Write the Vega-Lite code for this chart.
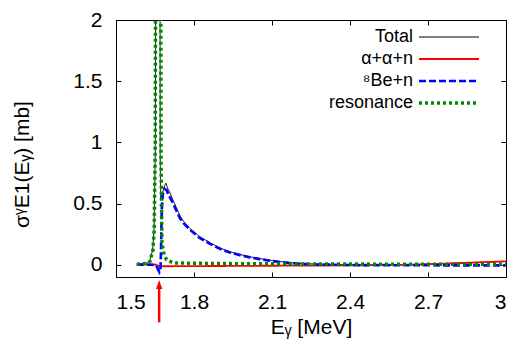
{
  "$schema": "https://vega.github.io/schema/vega-lite/v6.json",
  "width": 390,
  "height": 257,
  "autosize": {"type": "none"},
  "padding": {"left": 116, "top": 20, "right": 8, "bottom": 68},
  "background": "white",
  "config": {
    "view": {"stroke": "black", "strokeWidth": 1},
    "font": "Liberation Sans",
    "axis": {"grid": false, "domain": false, "tickColor": "black", "tickWidth": 1, "labelFont": "Liberation Sans", "labelFontSize": 21, "labelColor": "black", "titleFont": "Liberation Sans", "titleFontSize": 21, "titleFontWeight": "normal", "titleColor": "black"}
  },
  "datasets": {
    "curves": [
      {"E": 1.58, "s": "Total", "v": 0.005},
      {"E": 1.62, "s": "Total", "v": 0.015},
      {"E": 1.63, "s": "Total", "v": 0.03},
      {"E": 1.637, "s": "Total", "v": 0.09},
      {"E": 1.641, "s": "Total", "v": 0.12},
      {"E": 1.646, "s": "Total", "v": 0.27},
      {"E": 1.651, "s": "Total", "v": 0.9},
      {"E": 1.654, "s": "Total", "v": 3},
      {"E": 1.662, "s": "Total", "v": 8},
      {"E": 1.669, "s": "Total", "v": 3},
      {"E": 1.670, "s": "Total", "v": 0.9},
      {"E": 1.672, "s": "Total", "v": 0.53},
      {"E": 1.676, "s": "Total", "v": 0.56},
      {"E": 1.684, "s": "Total", "v": 0.63},
      {"E": 1.692, "s": "Total", "v": 0.667},
      {"E": 1.70, "s": "Total", "v": 0.62},
      {"E": 1.708, "s": "Total", "v": 0.585},
      {"E": 1.72, "s": "Total", "v": 0.525},
      {"E": 1.746, "s": "Total", "v": 0.40},
      {"E": 1.76, "s": "Total", "v": 0.355},
      {"E": 1.785, "s": "Total", "v": 0.295},
      {"E": 1.823, "s": "Total", "v": 0.228},
      {"E": 1.862, "s": "Total", "v": 0.18},
      {"E": 1.9, "s": "Total", "v": 0.137},
      {"E": 1.938, "s": "Total", "v": 0.106},
      {"E": 1.977, "s": "Total", "v": 0.084},
      {"E": 2.015, "s": "Total", "v": 0.065},
      {"E": 2.054, "s": "Total", "v": 0.05},
      {"E": 2.092, "s": "Total", "v": 0.037},
      {"E": 2.131, "s": "Total", "v": 0.026},
      {"E": 2.169, "s": "Total", "v": 0.018},
      {"E": 2.208, "s": "Total", "v": 0.012},
      {"E": 2.26, "s": "Total", "v": 0.006},
      {"E": 2.4, "s": "Total", "v": 0.0},
      {"E": 2.6, "s": "Total", "v": 0.0},
      {"E": 2.7, "s": "Total", "v": 0.005},
      {"E": 2.8, "s": "Total", "v": 0.012},
      {"E": 2.9, "s": "Total", "v": 0.02},
      {"E": 3.0, "s": "Total", "v": 0.027},

      {"E": 1.58, "s": "α+α+n", "v": 0.003},
      {"E": 1.64, "s": "α+α+n", "v": 0.003},
      {"E": 1.655, "s": "α+α+n", "v": 0.0},
      {"E": 1.665, "s": "α+α+n", "v": -0.012},
      {"E": 1.70, "s": "α+α+n", "v": -0.012},
      {"E": 1.9, "s": "α+α+n", "v": -0.01},
      {"E": 2.2, "s": "α+α+n", "v": -0.007},
      {"E": 2.4, "s": "α+α+n", "v": -0.005},
      {"E": 2.6, "s": "α+α+n", "v": -0.001},
      {"E": 2.7, "s": "α+α+n", "v": 0.005},
      {"E": 2.8, "s": "α+α+n", "v": 0.012},
      {"E": 2.9, "s": "α+α+n", "v": 0.02},
      {"E": 3.0, "s": "α+α+n", "v": 0.028},

      {"E": 1.58, "s": "⁸Be+n", "v": 0.0},
      {"E": 1.64, "s": "⁸Be+n", "v": 0.0},
      {"E": 1.655, "s": "⁸Be+n", "v": -0.005},
      {"E": 1.662, "s": "⁸Be+n", "v": -0.04},
      {"E": 1.667, "s": "⁸Be+n", "v": -0.06},
      {"E": 1.671, "s": "⁸Be+n", "v": -0.04},
      {"E": 1.673, "s": "⁸Be+n", "v": 0.1},
      {"E": 1.676, "s": "⁸Be+n", "v": 0.45},
      {"E": 1.680, "s": "⁸Be+n", "v": 0.58},
      {"E": 1.688, "s": "⁸Be+n", "v": 0.62},
      {"E": 1.695, "s": "⁸Be+n", "v": 0.61},
      {"E": 1.70, "s": "⁸Be+n", "v": 0.58},
      {"E": 1.72, "s": "⁸Be+n", "v": 0.50},
      {"E": 1.746, "s": "⁸Be+n", "v": 0.38},
      {"E": 1.76, "s": "⁸Be+n", "v": 0.34},
      {"E": 1.785, "s": "⁸Be+n", "v": 0.285},
      {"E": 1.823, "s": "⁸Be+n", "v": 0.218},
      {"E": 1.862, "s": "⁸Be+n", "v": 0.171},
      {"E": 1.9, "s": "⁸Be+n", "v": 0.13},
      {"E": 1.938, "s": "⁸Be+n", "v": 0.10},
      {"E": 1.977, "s": "⁸Be+n", "v": 0.079},
      {"E": 2.015, "s": "⁸Be+n", "v": 0.06},
      {"E": 2.054, "s": "⁸Be+n", "v": 0.046},
      {"E": 2.092, "s": "⁸Be+n", "v": 0.033},
      {"E": 2.131, "s": "⁸Be+n", "v": 0.022},
      {"E": 2.169, "s": "⁸Be+n", "v": 0.014},
      {"E": 2.208, "s": "⁸Be+n", "v": 0.008},
      {"E": 2.26, "s": "⁸Be+n", "v": 0.003},
      {"E": 2.4, "s": "⁸Be+n", "v": -0.002},
      {"E": 2.6, "s": "⁸Be+n", "v": -0.004},
      {"E": 3.0, "s": "⁸Be+n", "v": -0.005},

      {"E": 1.58, "s": "resonance", "v": 0.005},
      {"E": 1.60, "s": "resonance", "v": 0.008},
      {"E": 1.62, "s": "resonance", "v": 0.012},
      {"E": 1.632, "s": "resonance", "v": 0.03},
      {"E": 1.638, "s": "resonance", "v": 0.095},
      {"E": 1.642, "s": "resonance", "v": 0.12},
      {"E": 1.647, "s": "resonance", "v": 0.29},
      {"E": 1.651, "s": "resonance", "v": 1.0},
      {"E": 1.653, "s": "resonance", "v": 3.0},
      {"E": 1.662, "s": "resonance", "v": 8},
      {"E": 1.672, "s": "resonance", "v": 3.0},
      {"E": 1.673, "s": "resonance", "v": 0.9},
      {"E": 1.675, "s": "resonance", "v": 0.5},
      {"E": 1.677, "s": "resonance", "v": 0.18},
      {"E": 1.685, "s": "resonance", "v": 0.08},
      {"E": 1.695, "s": "resonance", "v": 0.04},
      {"E": 1.72, "s": "resonance", "v": 0.015},
      {"E": 1.8, "s": "resonance", "v": 0.012},
      {"E": 2.0, "s": "resonance", "v": 0.008},
      {"E": 2.5, "s": "resonance", "v": 0.005},
      {"E": 3.0, "s": "resonance", "v": 0.004}
    ],
    "arrow": [
      {"E": 1.666, "tail": -0.47, "neck": -0.17, "head": -0.161}
    ]
  },
  "layer": [
    {
      "data": {"name": "curves"},
      "mark": {"type": "line", "clip": true, "strokeCap": "butt"},
      "encoding": {
        "x": {"field": "E", "type": "quantitative", "scale": {"domain": [1.5, 3], "nice": false, "zero": false},
              "axis": {"orient": "bottom", "values": [1.5, 1.8, 2.1, 2.4, 2.7, 3], "format": "~g", "tickSize": -5, "labelPadding": 19, "title": "Eᵧ [MeV]", "titlePadding": 4}},
        "y": {"field": "v", "type": "quantitative", "scale": {"domain": [-0.1, 2], "nice": false, "zero": false},
              "axis": {"orient": "left", "values": [0, 0.5, 1, 1.5, 2], "format": "~g", "tickSize": -5, "labelPadding": 19, "title": "σᵞE1(Eᵧ) [mb]", "titleX": -84, "titleY": 144, "titleAngle": -90, "titleBaseline": "bottom", "titleAlign": "center"}},
        "color": {"field": "s", "type": "nominal", "title": null,
                  "scale": {"domain": ["Total", "α+α+n", "⁸Be+n", "resonance"], "range": ["#000000", "#ff0000", "#0000ff", "#008a00"]},
                  "legend": {"orient": "none", "legendX": 303, "legendY": 8, "padding": 0, "rowPadding": 4,
                             "symbolType": "M-6,0H6", "symbolSize": 100, "symbolOffset": 21,
                             "labelAlign": "right", "labelOffset": -45, "labelFont": "Liberation Sans", "labelFontSize": 18, "labelColor": "black", "labelLimit": 200}},
        "strokeDash": {"field": "s", "type": "nominal", "title": null,
                  "scale": {"domain": ["Total", "α+α+n", "⁸Be+n", "resonance"], "range": [[1, 0], [1, 0], [7, 3], [3, 3]]}},
        "strokeWidth": {"field": "s", "type": "nominal", "title": null,
                  "scale": {"domain": ["Total", "α+α+n", "⁸Be+n", "resonance"], "range": [1, 3.5, 3.5, 3.2]}}
      }
    },
    {
      "data": {"name": "arrow"},
      "mark": {"type": "rule", "clip": false, "color": "#ff0000", "strokeWidth": 2.5},
      "encoding": {
        "x": {"field": "E", "type": "quantitative", "scale": {"domain": [1.5, 3], "nice": false, "zero": false},
              "axis": {"orient": "top", "values": [1.5, 1.8, 2.1, 2.4, 2.7, 3], "labels": false, "tickSize": -5, "title": null}},
        "y": {"field": "tail", "type": "quantitative", "scale": {"domain": [-0.1, 2], "nice": false, "zero": false},
              "axis": {"orient": "right", "values": [0, 0.5, 1, 1.5, 2], "labels": false, "tickSize": -5, "title": null}},
        "y2": {"field": "neck"}
      }
    },
    {
      "data": {"name": "arrow"},
      "mark": {"type": "point", "clip": false, "filled": true, "color": "#ff0000", "opacity": 1, "shape": "M0,-1L0.7,1L-0.7,1Z", "size": 81},
      "encoding": {
        "x": {"field": "E", "type": "quantitative", "axis": null},
        "y": {"field": "head", "type": "quantitative", "axis": null}
      }
    }
  ],
  "resolve": {"axis": {"x": "independent", "y": "independent"}}
}
